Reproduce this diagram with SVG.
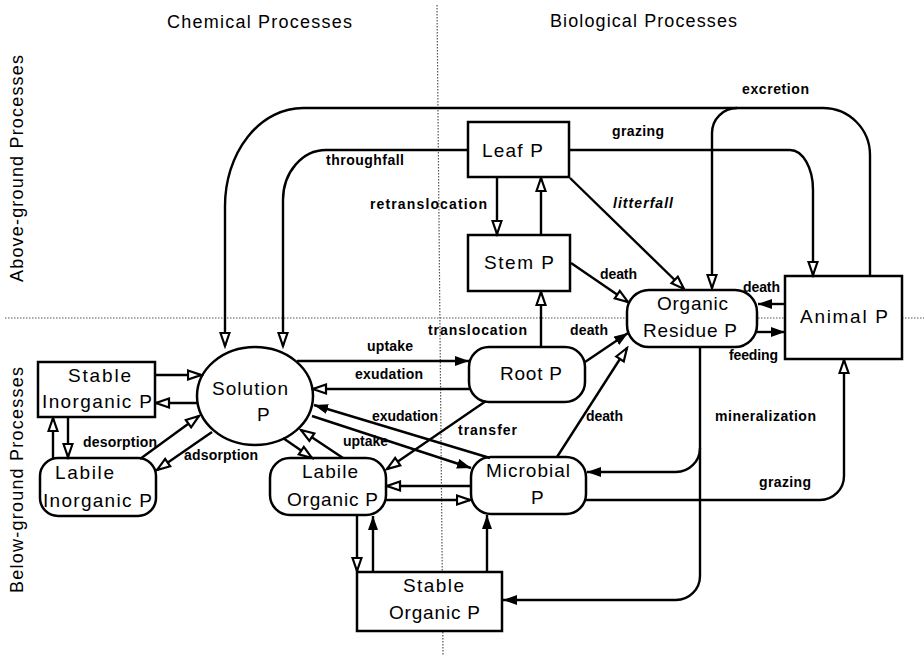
<svg xmlns="http://www.w3.org/2000/svg" width="924" height="658" viewBox="0 0 924 658">
<style>
.n{fill:#fff;stroke:#000;stroke-width:2.5}
.c{fill:none;stroke:#000;stroke-width:2.4}
.f{marker-end:url(#af)}
.o{marker-end:url(#ao)}
.t{font-family:"Liberation Sans",Arial,sans-serif;font-size:19px;fill:#000}
.l{font-family:"Liberation Sans",Arial,sans-serif;font-size:14px;font-weight:bold;fill:#000}
.h{font-family:"Liberation Sans",Arial,sans-serif;font-size:18px;fill:#000}
.d{stroke:#555;stroke-width:1.2;stroke-dasharray:1.5 1.5;fill:none}
</style>
<defs>
<marker id="af" viewBox="0 0 14 10" refX="14" refY="5" markerWidth="14" markerHeight="10" orient="auto" markerUnits="userSpaceOnUse"><path d="M0,0L14,5L0,10z" fill="#000"/></marker>
<marker id="ao" viewBox="-1.5 -1.5 17 13" refX="13" refY="5" markerWidth="17" markerHeight="13" orient="auto" markerUnits="userSpaceOnUse"><path d="M0,0.5L13,5L0,9.5z" fill="#fff" stroke="#000" stroke-width="2.2"/></marker>
</defs>
<rect width="924" height="658" fill="#fff"/>
<g id="dividers">
<path class="d" d="M437,5 L443,655"/>
<path class="d" d="M5,318 H924"/>
</g>
<g id="titles">
<text class="h" x="167" y="28" textLength="185" lengthAdjust="spacing">Chemical Processes</text>
<text class="h" x="550" y="27" textLength="187" lengthAdjust="spacing">Biological Processes</text>
<text class="h" transform="rotate(-90)" x="-282" y="23" textLength="227" lengthAdjust="spacing">Above-ground Processes</text>
<text class="h" transform="rotate(-90)" x="-593" y="23" textLength="226" lengthAdjust="spacing">Below-ground Processes</text>
</g>
<g id="leaf"><rect class="n" x="468" y="122" width="101" height="55"/><text class="t" x="482" y="157" textLength="61" lengthAdjust="spacing">Leaf P</text></g>
<g id="stem"><rect class="n" x="468" y="235" width="102" height="56"/><text class="t" x="484" y="269" textLength="70" lengthAdjust="spacing">Stem P</text></g>
<g id="organic-residue"><rect class="n" x="627" y="290" width="130" height="57" rx="22"/><text class="t" x="657" y="310" textLength="71" lengthAdjust="spacing">Organic</text><text class="t" x="643" y="337" textLength="94" lengthAdjust="spacing">Residue P</text></g>
<g id="animal"><rect class="n" x="785" y="276" width="117" height="83"/><text class="t" x="800" y="323" textLength="88" lengthAdjust="spacing">Animal P</text></g>
<g id="root"><rect class="n" x="469" y="347" width="116" height="55" rx="20"/><text class="t" x="500" y="380" textLength="62" lengthAdjust="spacing">Root P</text></g>
<g id="microbial"><rect class="n" x="471" y="457" width="115" height="57" rx="20"/><text class="t" x="486" y="477" textLength="84" lengthAdjust="spacing">Microbial</text><text class="t" x="531" y="504">P</text></g>
<g id="labile-organic"><rect class="n" x="270" y="458" width="116" height="57" rx="20"/><text class="t" x="302" y="478" textLength="56" lengthAdjust="spacing">Labile</text><text class="t" x="287" y="506" textLength="91" lengthAdjust="spacing">Organic P</text></g>
<g id="stable-organic"><rect class="n" x="357" y="572" width="145" height="59"/><text class="t" x="403" y="592" textLength="61" lengthAdjust="spacing">Stable</text><text class="t" x="389" y="619" textLength="91" lengthAdjust="spacing">Organic P</text></g>
<g id="solution"><ellipse class="n" cx="255" cy="396" rx="58" ry="49"/><text class="t" x="212" y="395" textLength="76" lengthAdjust="spacing">Solution</text><text class="t" x="257" y="421">P</text></g>
<g id="stable-inorganic"><rect class="n" x="38" y="362" width="117" height="55"/><text class="t" x="68" y="382" textLength="63" lengthAdjust="spacing">Stable</text><text class="t" x="42" y="408" textLength="110" lengthAdjust="spacing">Inorganic P</text></g>
<g id="labile-inorganic"><rect class="n" x="40" y="458" width="116" height="58" rx="18"/><text class="t" x="55" y="479" textLength="59" lengthAdjust="spacing">Labile</text><text class="t" x="43" y="507" textLength="109" lengthAdjust="spacing">Inorganic P</text></g>
<g id="connectors">
<path class="c o" d="M870,276 V155 A47,47 0 0 0 823,108 H303 A78,98 0 0 0 225,206 V346"/>
<path class="c o" d="M737,108 A25,25 0 0 0 712,133 V288"/>
<path class="c o" d="M468,150 H326 A43,50 0 0 0 283,200 V346"/>
<path class="c o" d="M569,150 H790 A23,40 0 0 1 813,190 V275"/>
<path class="c o" d="M497,177 V234"/>
<path class="c o" d="M541,235 V178"/>
<path class="c o" d="M570,178 L684,289"/>
<path class="c o" d="M571,263 L628,302"/>
<path class="c o" d="M541,347 V292"/>
<path class="c f" d="M585,362 L628,333"/>
<path class="c o" d="M557,457 L627,348"/>
<path class="c f" d="M785,304 H758"/>
<path class="c f" d="M757,332 H785"/>
<path class="c f" d="M700,347 V448 A24,24 0 0 1 676,472 H587"/>
<path class="c f" d="M700,448 V576 A24,24 0 0 1 676,600 H503"/>
<path class="c o" d="M586,500 H820 A24,24 0 0 0 844,476 V360"/>
<path class="c f" d="M297,361 H469"/>
<path class="c o" d="M469,389 H313"/>
<path class="c f" d="M490,458 L314,405"/>
<path class="c f" d="M312,416 L471,468"/>
<path class="c o" d="M486,401 L387,469"/>
<path class="c o" d="M283,438 L312,458"/>
<path class="c o" d="M343,458 L301,430"/>
<path class="c o" d="M471,486 H387"/>
<path class="c o" d="M386,500 H470"/>
<path class="c o" d="M357,515 V571"/>
<path class="c f" d="M373,572 V516"/>
<path class="c f" d="M487,572 V515"/>
<path class="c o" d="M155,375 H201"/>
<path class="c o" d="M198,403 H156"/>
<path class="c o" d="M53,458 V418"/>
<path class="c o" d="M68,417 V457"/>
<path class="c o" d="M140,459 L199,416"/>
<path class="c o" d="M212,432 L157,470"/>
<text class="l" x="742" y="94" textLength="67" lengthAdjust="spacing">excretion</text>
<text class="l" x="612" y="136" textLength="52" lengthAdjust="spacing">grazing</text>
<text class="l" x="326" y="165" textLength="78" lengthAdjust="spacing">throughfall</text>
<text class="l" x="370" y="209" textLength="117" lengthAdjust="spacing">retranslocation</text>
<text class="l" x="613" y="208" textLength="60" lengthAdjust="spacing" font-style="italic">litterfall</text>
<text class="l" x="600" y="279" textLength="37" lengthAdjust="spacing">death</text>
<text class="l" x="743" y="292" textLength="37" lengthAdjust="spacing">death</text>
<text class="l" x="428" y="335" textLength="99" lengthAdjust="spacing">translocation</text>
<text class="l" x="570" y="335" textLength="38" lengthAdjust="spacing">death</text>
<text class="l" x="729" y="360" textLength="49" lengthAdjust="spacing">feeding</text>
<text class="l" x="367" y="351" textLength="46" lengthAdjust="spacing">uptake</text>
<text class="l" x="355" y="379" textLength="68" lengthAdjust="spacing">exudation</text>
<text class="l" x="372" y="421" textLength="66" lengthAdjust="spacing">exudation</text>
<text class="l" x="343" y="446" textLength="45" lengthAdjust="spacing">uptake</text>
<text class="l" x="458" y="435" textLength="59" lengthAdjust="spacing">transfer</text>
<text class="l" x="586" y="421" textLength="37" lengthAdjust="spacing">death</text>
<text class="l" x="715" y="421" textLength="101" lengthAdjust="spacing">mineralization</text>
<text class="l" x="759" y="487" textLength="52" lengthAdjust="spacing">grazing</text>
<text class="l" x="83" y="447" textLength="74" lengthAdjust="spacing">desorption</text>
<text class="l" x="184" y="460" textLength="74" lengthAdjust="spacing">adsorption</text>
</g>
</svg>
